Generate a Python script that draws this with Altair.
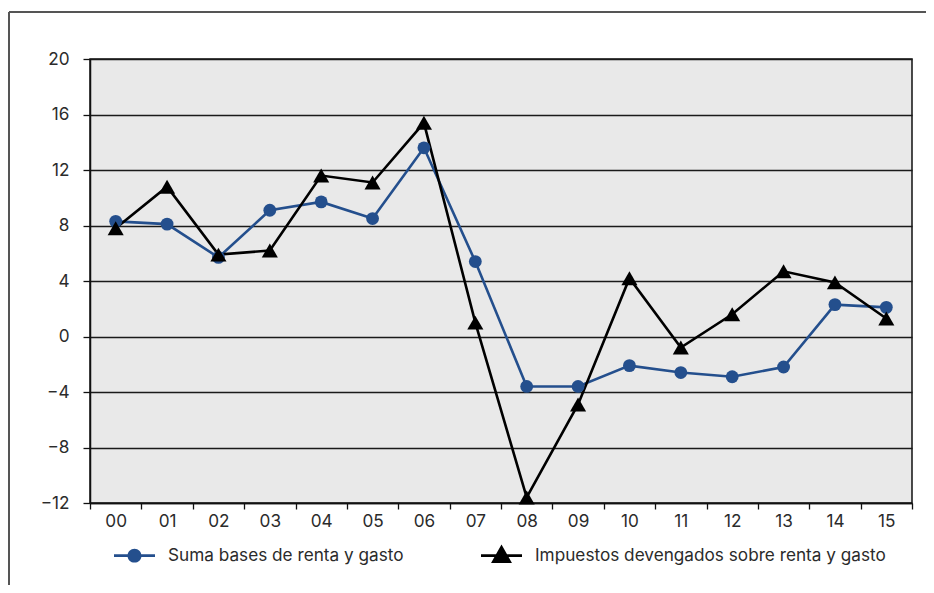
import altair as alt
import pandas as pd

# ---- data ----
years = ["00", "01", "02", "03", "04", "05", "06", "07",
         "08", "09", "10", "11", "12", "13", "14", "15"]
suma_bases = [8.3, 8.1, 5.7, 9.1, 9.7, 8.5, 13.6, 5.4,
              -3.6, -3.6, -2.1, -2.6, -2.9, -2.2, 2.3, 2.1]
impuestos = [7.8, 10.8, 5.9, 6.2, 11.6, 11.1, 15.4, 1.0,
             -11.6, -4.9, 4.2, -0.8, 1.6, 4.7, 3.9, 1.3]
series_names = ["Suma bases de renta y gasto",
                "Impuestos devengados sobre renta y gasto"]
series_colors = ["#244f8d", "#000000"]
series_shapes = ["circle", "triangle-up"]
series_sizes = [165, 260]
y_ticks = [-12, -8, -4, 0, 4, 8, 12, 16, 20]

FONT = "Inter"
TEXT = "#2b2b2b"

rows = []
for name, vals in zip(series_names, [suma_bases, impuestos]):
    for yr, v in zip(years, vals):
        rows.append({"year": yr, "serie": name, "valor": v})
df = pd.DataFrame(rows)

W, H = 822, 444

# legend symbols: a short line with the marker on it
legend_paths = [
    "M-1,-0.065H1V0.065H-1Z M0.34,0 A0.34,0.34 0 1,1 -0.34,0 A0.34,0.34 0 1,1 0.34,0 Z",
    "M-1,-0.065H1V0.065H-1Z M0,-0.54 L0.51,0.36 L-0.51,0.36 Z",
]
LEG_SIZE = 1681
legend = alt.Legend(
    title=None,
    orient="none",
    legendX=24,
    legendY=476,
    direction="horizontal",
    columns=2,
    columnPadding=77,
    padding=0,
    symbolSize=LEG_SIZE,
    symbolOpacity=1,
    symbolStrokeWidth=0,
    labelOffset=13,
    labelFont=FONT,
    labelFontSize=17.2,
    labelColor=TEXT,
    labelLimit=0,
)

x_enc = alt.X(
    "year:O",
    sort=years,
    scale=alt.Scale(domain=years, paddingInner=0, paddingOuter=0),
    axis=alt.Axis(
        title=None,
        grid=False,
        labelAngle=0,
        tickBand="extent",
        tickSize=6,
        tickColor="#111",
        tickWidth=1.3,
        domainColor="#111",
        domainWidth=1.5,
        labelFont=FONT,
        labelFontSize=17.2,
        labelColor=TEXT,
        labelPadding=3,
    ),
)
y_enc = alt.Y(
    "valor:Q",
    scale=alt.Scale(domain=[y_ticks[0], y_ticks[-1]], nice=False),
    axis=alt.Axis(
        values=y_ticks,
        title=None,
        grid=True,
        gridColor="#1a1a1a",
        gridWidth=1.3,
        tickSize=7,
        tickColor="#111",
        tickWidth=1.3,
        domainColor="#111",
        domainWidth=1.5,
        labelFont=FONT,
        labelFontSize=17.2,
        labelColor=TEXT,
        labelPadding=14,
    ),
)
color_scale = alt.Scale(domain=series_names, range=series_colors)

# legend-only layer (first, so its legend settings win): no rows drawn,
# entries come from the scale domain
legend_layer = alt.Chart(df).transform_filter("false").mark_point(
    filled=True, opacity=1, size=LEG_SIZE, strokeWidth=0
).encode(
    x=x_enc, y=y_enc,
    color=alt.Color("serie:N", scale=color_scale, legend=legend),
    shape=alt.Shape("serie:N",
                    scale=alt.Scale(domain=series_names, range=legend_paths),
                    legend=legend),
)

lines = alt.Chart(df).mark_line(strokeWidth=2.6, opacity=1).encode(
    x=x_enc, y=y_enc,
    color=alt.Color("serie:N", scale=color_scale, legend=None),
)

point_layers = []
for name, shp, sz in zip(series_names, series_shapes, series_sizes):
    point_layers.append(
        alt.Chart(df).transform_filter(
            alt.datum.serie == name
        ).mark_point(filled=True, opacity=1, strokeWidth=0).encode(
            x=x_enc, y=y_enc,
            color=alt.Color("serie:N", scale=color_scale, legend=None),
            shape=alt.value(shp),
            size=alt.value(sz),
        )
    )

# decorative outer frame (partly cut by the page edge)
frame_left = alt.Chart(alt.Data(values=[{}])).mark_rule(
    color="#555", strokeWidth=2
).encode(x=alt.value(-81), y=alt.value(-47), y2=alt.value(H + 200))
frame_top = alt.Chart(alt.Data(values=[{}])).mark_rule(
    color="#555", strokeWidth=2
).encode(y=alt.value(-47), x=alt.value(-81), x2=alt.value(W + 200))

chart = alt.layer(
    legend_layer, frame_left, frame_top, lines, *point_layers
).properties(
    width=W,
    height=H,
    autosize=alt.AutoSizeParams(type="none"),
    padding={"left": 82, "top": 51, "right": 14, "bottom": 82},
    background="white",
).configure_view(
    fill="#e9e9e9", stroke="#111", strokeWidth=1.5
)

chart.save("out.html", embed_options={"renderer": "svg", "actions": False})
